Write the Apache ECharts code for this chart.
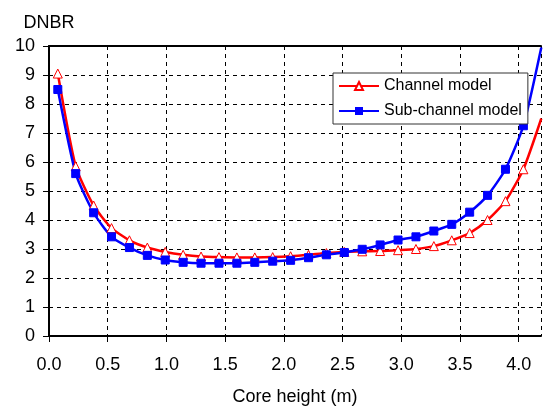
<!DOCTYPE html>
<html>
<head>
<meta charset="utf-8">
<script src="https://cdn.jsdelivr.net/npm/echarts@6/dist/echarts.min.js"></script>
<style>
  html, body { margin: 0; padding: 0; background: #fff; }
  #chart { width: 543px; height: 407px; }
</style>
</head>
<body>
<div id="chart"></div>
<script>
// core height of each axial node (m)
var heights = [0.075, 0.2275, 0.38, 0.5325, 0.685, 0.8375, 0.99, 1.1425, 1.295, 1.4475,
  1.6, 1.7525, 1.905, 2.0575, 2.21, 2.3625, 2.515, 2.6675, 2.82, 2.9725,
  3.125, 3.2775, 3.43, 3.5825, 3.735, 3.8875, 4.04, 4.1925]
var channelDnbr = [9.05, 5.85, 4.5, 3.72, 3.3, 3.05, 2.9, 2.8, 2.74, 2.72,
  2.71, 2.71, 2.72, 2.75, 2.8, 2.86, 2.9, 2.92, 2.93, 2.96,
  3.0, 3.1, 3.3, 3.55, 4.0, 4.65, 5.75, 7.5]
var subChannelDnbr = [8.5, 5.6, 4.25, 3.42, 3.05, 2.78, 2.62, 2.54, 2.51, 2.51,
  2.51, 2.54, 2.58, 2.61, 2.7, 2.8, 2.88, 2.99, 3.14, 3.31,
  3.42, 3.62, 3.85, 4.27, 4.85, 5.75, 7.25, 9.95]

function pairs (ys) {
  return heights.map(function (x, i) { return [x, ys[i]] })
}

var font = 'Liberation Sans, Arial, sans-serif'
var myChart = echarts.init(document.getElementById('chart'))
var option = {
  backgroundColor: '#fff',
  animation: false,
  grid: { left: 49, right: 2, top: 46, bottom: 71, outerBoundsMode: 'none', containLabel: false },
  legend: {
    orient: 'vertical',
    left: 333,
    top: 73,
    padding: [5, 6, 5, 5],
    itemGap: 9,
    itemWidth: 40,
    itemHeight: 10,
    backgroundColor: '#fff',
    borderColor: '#333',
    borderWidth: 1,
    borderRadius: 0,
    textStyle: { fontFamily: font, fontSize: 16, color: '#000' },
    data: ['Channel model', 'Sub-channel model']
  },
  xAxis: [
    {
      type: 'value',
      min: 0,
      max: 4.19,
      interval: 0.5,
      name: 'Core height (m)',
      nameLocation: 'middle',
      nameGap: 52,
      nameTextStyle: { fontFamily: font, fontSize: 18, color: '#000' },
      axisLine: { lineStyle: { color: '#000', width: 2 } },
      axisTick: { length: 6, lineStyle: { color: '#000' } },
      axisLabel: {
        margin: 20,
        showMaxLabel: false,
        fontFamily: font,
        fontSize: 18,
        color: '#000',
        formatter: function (v) { return v.toFixed(1) }
      },
      splitLine: { show: true, lineStyle: { color: '#000', type: [4, 4] } }
    },
    {
      type: 'value',
      position: 'top',
      min: 0,
      max: 4.19,
      axisLine: { lineStyle: { color: '#000', width: 2 } },
      axisTick: { show: false },
      axisLabel: { show: false },
      splitLine: { show: false }
    }
  ],
  yAxis: {
    type: 'value',
    min: 0,
    max: 10,
    interval: 1,
    name: 'DNBR',
    nameLocation: 'end',
    nameGap: 14,
    nameTextStyle: { fontFamily: font, fontSize: 18, color: '#000', align: 'center' },
    axisLine: { show: true, lineStyle: { color: '#000', width: 2 } },
    axisTick: { show: true, length: 6, lineStyle: { color: '#000' } },
    axisLabel: { margin: 14, fontFamily: font, fontSize: 18, color: '#000' },
    splitLine: { show: true, lineStyle: { color: '#000', type: [4, 4] } }
  },
  series: [
    {
      name: 'Channel model',
      type: 'line',
      smooth: 0.2,
      data: pairs(channelDnbr),
      symbol: 'triangle',
      symbolSize: 9,
      lineStyle: { color: '#ff0000', width: 2.5 },
      itemStyle: { color: '#fff', borderColor: '#ff0000', borderWidth: 1 }
    },
    {
      name: 'Sub-channel model',
      type: 'line',
      smooth: 0.2,
      data: pairs(subChannelDnbr),
      symbol: 'rect',
      symbolSize: 8,
      lineStyle: { color: '#0000ff', width: 2.5 },
      itemStyle: { color: '#0000ff', borderColor: '#0000ff' }
    }
  ]
}
myChart.setOption(option)
</script>
</body>
</html>
